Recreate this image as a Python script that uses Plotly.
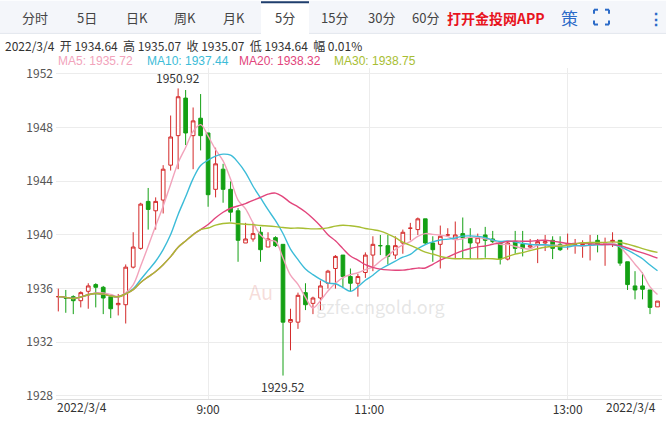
import plotly.graph_objects as go
import pandas as pd

opens  = [1935.4,1935.3,1935.4,1935.1,1935.8,1936.3,1936.1,1935.4,1934.8,1934.8,
          1937.6,1939.0,1942.5,1941.8,1942.6,1945.2,1947.4,1950.2,1947.4,1948.7,
          1947.6,1943.4,1944.9,1943.4,1941.8,1939.4,1939.7,1940.2,1939.1,1939.8,
          1939.3,1933.5,1933.5,1935.7,1934.9,1935.3,1936.4,1937.5,1938.5,1936.9,
          1936.4,1937.2,1938.5,1939.2,1939.2,1938.5,1939.4,1940.5,1940.4,1941.2,
          1939.4,1939.3,1940.0,1939.7,1940.1,1939.8,1939.4,1940.0,1939.7,1939.4,
          1938.2,1939.5,1939.3,1939.1,1939.3,1939.4,1939.6,1939.3,1939.3,1939.3,
          1939.2,1939.3,1939.6,1939.4,1939.5,1939.6,1938.0,1936.2,1936.2,1935.9,1934.64]
closes = [1935.4,1935.3,1935.1,1935.7,1936.2,1936.1,1935.3,1934.5,1934.9,1937.6,
          1939.1,1942.3,1941.9,1942.5,1944.9,1947.3,1950.3,1947.6,1948.5,1947.4,
          1943.0,1945.3,1943.4,1941.7,1939.6,1939.7,1940.1,1938.9,1939.7,1939.2,
          1933.5,1933.7,1935.5,1934.8,1935.3,1936.2,1937.3,1938.4,1936.9,1936.4,
          1936.9,1938.5,1939.3,1939.2,1938.4,1939.2,1940.2,1940.5,1941.2,1939.4,
          1938.9,1939.9,1940.0,1940.0,1939.8,1939.4,1939.8,1939.6,1939.5,1938.2,
          1939.4,1939.0,1939.0,1939.2,1939.5,1939.5,1939.0,1938.9,1939.3,1939.3,
          1939.3,1939.3,1939.3,1939.4,1939.6,1937.9,1936.3,1935.9,1935.95,1934.6,1935.07]
highs  = [1936.0,1935.9,1935.5,1935.8,1936.4,1936.4,1936.2,1935.5,1935.6,1937.8,
          1940.2,1942.4,1943.5,1942.8,1945.2,1948.9,1950.92,1950.8,1949.5,1950.5,
          1947.6,1946.5,1945.3,1944.0,1942.0,1940.9,1940.9,1940.6,1940.2,1939.9,
          1939.3,1934.5,1935.7,1936.4,1935.4,1936.6,1937.4,1938.5,1938.5,1937.5,
          1937.1,1938.7,1939.9,1940.0,1940.0,1939.9,1940.4,1940.9,1941.3,1941.2,
          1939.9,1940.7,1940.5,1941.0,1941.3,1940.5,1940.1,1940.6,1940.3,1939.4,
          1939.5,1940.3,1940.3,1939.7,1939.7,1940.0,1939.9,1939.9,1940.1,1939.7,
          1939.6,1940.0,1940.0,1939.8,1940.2,1939.6,1938.0,1937.3,1937.2,1935.9,1935.07]
lows   = [1934.3,1934.2,1934.1,1934.6,1934.5,1934.6,1934.1,1933.8,1934.0,1933.4,
          1937.5,1938.9,1940.4,1940.4,1941.6,1944.8,1944.9,1946.7,1944.9,1946.3,
          1942.1,1942.8,1942.4,1941.0,1938.0,1939.4,1939.5,1938.0,1939.1,1939.1,
          1929.52,1931.4,1933.0,1934.4,1934.1,1934.4,1936.0,1936.0,1936.1,1935.8,
          1935.4,1936.8,1937.3,1938.5,1937.8,1938.2,1938.6,1939.6,1940.0,1939.3,
          1938.0,1937.5,1939.9,1938.2,1938.2,1938.2,1938.2,1938.3,1939.4,1937.8,
          1938.1,1938.6,1938.4,1939.0,1937.9,1938.8,1938.2,1938.8,1938.9,1938.6,
          1938.3,1938.1,1938.7,1937.7,1939.1,1937.7,1935.9,1935.2,1935.2,1934.1,1934.64]

idx = list(range(len(closes)))
tick_vals = [20, 41.5, 68]
tick_text = ["9:00", "11:00", "13:00"]
ma_periods = [5, 10, 20, 30]
ma_colors = ["#f2a3bb", "#3cbcd8", "#e2457c", "#a8be33"]
ma_labels = ["MA5: 1935.72", "MA10: 1937.44", "MA20: 1938.32", "MA30: 1938.75"]

W, HGT = 666, 421
L, R, T, B = 56, 4, 68, 18
PW, PH = W - L - R, HGT - T - B
def px_(x):
    return (x - L) / PW
def py(y):
    return 1 - (y - T) / PH

s = pd.Series(closes)
fig = go.Figure()
fig.add_trace(go.Candlestick(
    x=idx, open=opens, high=highs, low=lows, close=closes,
    increasing=dict(line=dict(color="#d42a2a", width=1), fillcolor="#ffffff"),
    decreasing=dict(line=dict(color="#14a014", width=1), fillcolor="#14a014"),
    whiskerwidth=0, showlegend=False, hoverinfo="skip"))
for p, c in zip(ma_periods, ma_colors):
    fig.add_trace(go.Scatter(x=idx, y=s.rolling(p, min_periods=1).mean(), mode="lines",
                             line=dict(color=c, width=1.4, shape="spline"),
                             showlegend=False, hoverinfo="skip"))

fig.update_layout(
    width=W, height=HGT, margin=dict(l=L, r=R, t=T, b=B),
    paper_bgcolor="white", plot_bgcolor="white",
    font=dict(family="Noto Sans CJK SC, Noto Sans", color="#333"),
    xaxis=dict(range=[(L - 58.3) / 7.49, (W - R - 58.3) / 7.49], rangeslider=dict(visible=False),
               tickvals=tick_vals, ticktext=tick_text, showgrid=True, gridcolor="#ececec",
               tickfont=dict(size=12, color="#333"), showline=True, linecolor="#ddd",
               zeroline=False, ticks="", ticklabelstandoff=0),
    yaxis=dict(range=[1952 - (T + PH - 74) / 13.58, 1952 + (74 - T) / 13.58],
               tickvals=[1928, 1932, 1936, 1940, 1944, 1948, 1952],
               tickfont=dict(size=12, color="#555"), ticklabelstandoff=2,
               showgrid=True, gridcolor="#ececec", zeroline=False),
)

def A(text, x, y, xa="center", size=13, color="#444", family=None):
    f = dict(size=size, color=color)
    if family:
        f["family"] = family
    return dict(xref="paper", yref="paper", x=px_(x), y=py(y), xanchor=xa, yanchor="middle",
                text=text, showarrow=False, font=f)

ann = []
ann.append(dict(x=16, y=1950.92, text="1950.92", showarrow=False, xanchor="center", yanchor="bottom",
                font=dict(size=12, color="#333")))
ann.append(dict(x=30, y=1929.52, text="1929.52", showarrow=False, xanchor="center", yanchor="top",
                font=dict(size=12, color="#333")))
ann.append(A("2022/3/4", 55, 411, "left", 12, "#333"))
ann.append(A("2022/3/4", 658, 411, "right", 12, "#333"))
ann.append(dict(x=27, y=1935.8, text="Au", showarrow=False, xanchor="center", yanchor="middle",
                font=dict(size=20, color="rgba(220,120,110,0.25)")))
ann.append(dict(x=43, y=1934.7, text="gzfe.cngold.org", showarrow=False, xanchor="center", yanchor="middle",
                font=dict(size=18, color="rgba(200,200,200,0.45)")))

tabs = [("分时", 35), ("5日", 87), ("日K", 137), ("周K", 185), ("月K", 234), ("5分", 285),
        ("15分", 334), ("30分", 381), ("60分", 426)]
for t, xp in tabs:
    ann.append(A(t, xp, 17, "center", 13, "#444"))
ann.append(A("<b>打开金投网APP</b>", 496, 17, "center", 14, "#e8141e"))
ann.append(A("策", 569, 17, "center", 17, "#2b6bc8"))
ann.append(A("<b>⋮</b>", 656, 17, "center", 16, "#2b6bc8"))
ann.append(A("2022/3/4  开 1934.64  高 1935.07  收 1935.07  低 1934.64  幅 0.01%", 3, 45, "left", 12, "#333"))
xs = [56, 145, 237, 332]
for t, c, xp in zip(ma_labels, ma_colors, xs):
    ann.append(A(t, xp, 61, "left", 12, c, "Liberation Sans"))
fig.update_layout(annotations=ann)

shapes = [
    dict(type="rect", xref="paper", yref="paper", x0=px_(0), x1=px_(666), y0=py(33), y1=py(0),
         line=dict(width=0), fillcolor="#f4f6fa", layer="below"),
    dict(type="line", xref="paper", yref="paper", x0=px_(0), x1=px_(666), y0=py(33), y1=py(33),
         line=dict(width=1, color="#e3e7ee")),
    dict(type="rect", xref="paper", yref="paper", x0=px_(261), x1=px_(309), y0=py(33.5), y1=py(1),
         line=dict(width=0), fillcolor="#ffffff"),
    dict(type="line", xref="paper", yref="paper", x0=px_(261), x1=px_(309), y0=py(1.5), y1=py(1.5),
         line=dict(width=2, color="#1f3e6d")),
]
cx0, cx1, cy0, cy1 = 594, 609, 9, 24
c = "#2b6bc8"
for (xa, ya, dx, dy) in [(cx0, cy0, 1, 1), (cx1, cy0, -1, 1), (cx0, cy1, 1, -1), (cx1, cy1, -1, -1)]:
    shapes.append(dict(type="line", xref="paper", yref="paper", x0=px_(xa), x1=px_(xa + 4 * dx),
                       y0=py(ya), y1=py(ya), line=dict(width=2, color=c)))
    shapes.append(dict(type="line", xref="paper", yref="paper", x0=px_(xa), x1=px_(xa),
                       y0=py(ya), y1=py(ya + 4 * dy), line=dict(width=2, color=c)))
fig.update_layout(shapes=shapes)

fig.write_html("out.html", config={"displayModeBar": False},
               post_script="document.body.style.margin='0px';document.body.style.overflow='hidden';")
